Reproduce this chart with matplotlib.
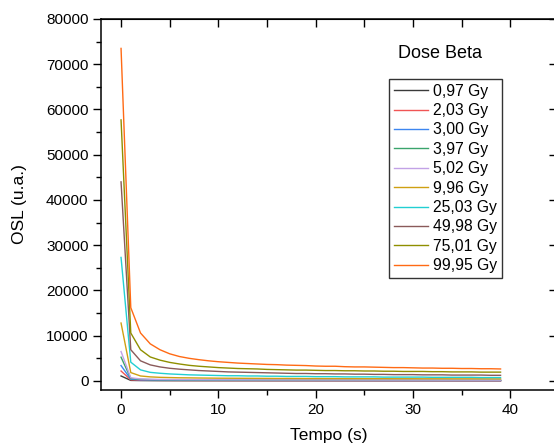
import numpy as np
import matplotlib
matplotlib.use("Agg")
import matplotlib.pyplot as plt
from matplotlib.ticker import MultipleLocator

plt.rcParams['font.family'] = ['Liberation Sans', 'DejaVu Sans']

## dados (OSL vs tempo, 0..39 s)
tempo = list(range(40))

dose_labels = ["0,97 Gy", "2,03 Gy", "3,00 Gy", "3,97 Gy", "5,02 Gy",
               "9,96 Gy", "25,03 Gy", "49,98 Gy", "75,01 Gy", "99,95 Gy"]

osl_097 = [1100, 120, 85, 70, 62, 58, 55, 52, 50, 48, 47, 46, 45, 44, 43, 42, 41, 41, 40, 40,
           39, 39, 38, 38, 37, 37, 36, 36, 36, 35, 35, 35, 34, 34, 34, 33, 33, 33, 33, 32]
osl_203 = [2200, 250, 170, 140, 125, 115, 110, 105, 100, 98, 95, 92, 90, 88, 87, 85, 84, 82, 81, 80,
           79, 78, 77, 76, 75, 75, 74, 73, 72, 72, 71, 70, 70, 69, 69, 68, 68, 67, 67, 66]
osl_300 = [3400, 380, 250, 210, 190, 175, 165, 160, 155, 150, 145, 140, 140, 135, 135, 130, 130, 128, 125, 125,
           122, 120, 120, 118, 118, 115, 115, 112, 112, 110, 110, 110, 108, 108, 105, 105, 105, 103, 103, 100]
osl_397 = [5250, 550, 360, 300, 270, 250, 240, 230, 220, 215, 210, 205, 200, 195, 190, 185, 185, 180, 180, 175,
           175, 170, 170, 170, 165, 165, 165, 160, 160, 160, 155, 155, 155, 155, 150, 150, 150, 150, 145, 145]
osl_502 = [6500, 700, 450, 380, 340, 320, 300, 290, 280, 270, 260, 255, 250, 245, 240, 235, 230, 230, 225, 220,
           220, 215, 215, 210, 210, 205, 205, 200, 200, 200, 195, 195, 195, 190, 190, 190, 185, 185, 185, 180]
osl_996 = [12800, 1850, 1100, 900, 800, 750, 700, 680, 650, 630, 610, 600, 590, 580, 570, 560, 550, 550, 540, 530,
           530, 520, 520, 510, 510, 500, 500, 500, 490, 490, 490, 480, 480, 480, 470, 470, 470, 470, 460, 460]
osl_2503 = [27300, 4150, 2450, 1900, 1700, 1550, 1450, 1350, 1300, 1250, 1200, 1150, 1150, 1100, 1100, 1050, 1050, 1000, 1000, 1000,
            950, 950, 950, 900, 900, 900, 900, 850, 850, 850, 850, 850, 800, 800, 800, 800, 800, 750, 750, 750]
osl_4998 = [44000, 6900, 4450, 3550, 3100, 2800, 2600, 2450, 2300, 2200, 2100, 2000, 1950, 1900, 1850, 1800, 1750, 1700, 1650, 1650,
            1600, 1600, 1550, 1550, 1500, 1500, 1450, 1450, 1400, 1400, 1400, 1350, 1350, 1350, 1300, 1300, 1300, 1300, 1250, 1250]
osl_7501 = [57700, 10600, 6900, 5300, 4600, 4100, 3750, 3450, 3250, 3100, 2950, 2850, 2750, 2700, 2650, 2550, 2500, 2450, 2400, 2400,
            2350, 2300, 2300, 2250, 2250, 2200, 2200, 2150, 2150, 2100, 2100, 2100, 2050, 2050, 2000, 2000, 2000, 1950, 1950, 1950]
osl_9995 = [73500, 16200, 10600, 8200, 6900, 6000, 5400, 5000, 4700, 4450, 4250, 4100, 3950, 3850, 3750, 3650, 3600, 3500, 3450, 3400,
            3300, 3250, 3250, 3150, 3100, 3100, 3050, 3000, 2950, 2950, 2900, 2850, 2850, 2800, 2800, 2750, 2750, 2700, 2700, 2650]

series = [osl_097, osl_203, osl_300, osl_397, osl_502,
          osl_996, osl_2503, osl_4998, osl_7501, osl_9995]
cores = ['#3a3a3a', '#f05555', '#3d86f0', '#3aa46c', '#c2a2e6',
         '#cfa012', '#22cfd2', '#8a5a5a', '#8f8f00', '#ff6a14']

fig = plt.figure(figsize=(5.54, 4.48), dpi=100)
ax = fig.add_axes([101/554, 1-390/448, 456/554, 371/448])

for y, lab, c in zip(series, dose_labels, cores):
    ax.plot(tempo, y, color=c, lw=1.0, label=lab)

ax.set_xlim(-2.06, 44.8)
ax.set_ylim(-2000, 80000)
ax.xaxis.set_major_locator(MultipleLocator(10))
ax.xaxis.set_minor_locator(MultipleLocator(5))
ax.yaxis.set_major_locator(MultipleLocator(10000))
ax.yaxis.set_minor_locator(MultipleLocator(5000))
ax.tick_params(which='major', direction='out', length=6, width=1, labelsize=11, pad=3)
ax.tick_params(which='minor', direction='out', length=3.5, width=1)

for s in ax.spines.values():
    s.set_linewidth(1.1)

## eixos de cima e direita com ticks para dentro
top = ax.secondary_xaxis('top')
top.xaxis.set_major_locator(MultipleLocator(5))
top.tick_params(direction='in', length=6, width=1, labeltop=False)
right = ax.secondary_yaxis('right')
right.yaxis.set_major_locator(MultipleLocator(10000))
right.tick_params(direction='in', length=6, width=1, labelright=False)

ax.set_xlabel("Tempo (s)", fontsize=12.5, labelpad=8)
ax.set_ylabel("OSL (u.a.)", fontsize=12.5, labelpad=14)

leg = ax.legend(loc='upper left', bbox_to_anchor=(389/554, 1-79/448),
                bbox_transform=fig.transFigure, borderaxespad=0,
                fontsize=11.3, frameon=True, fancybox=False, shadow=False,
                handlelength=2.2, handletextpad=0.3, labelspacing=0.28,
                borderpad=0.3)
leg.get_frame().set_edgecolor('black')
leg.get_frame().set_linewidth(1.0)

fig.text(440/554, 1-53/448, "Dose Beta", fontsize=13, ha='center', va='center')

fig.savefig("out.png", dpi=100)
